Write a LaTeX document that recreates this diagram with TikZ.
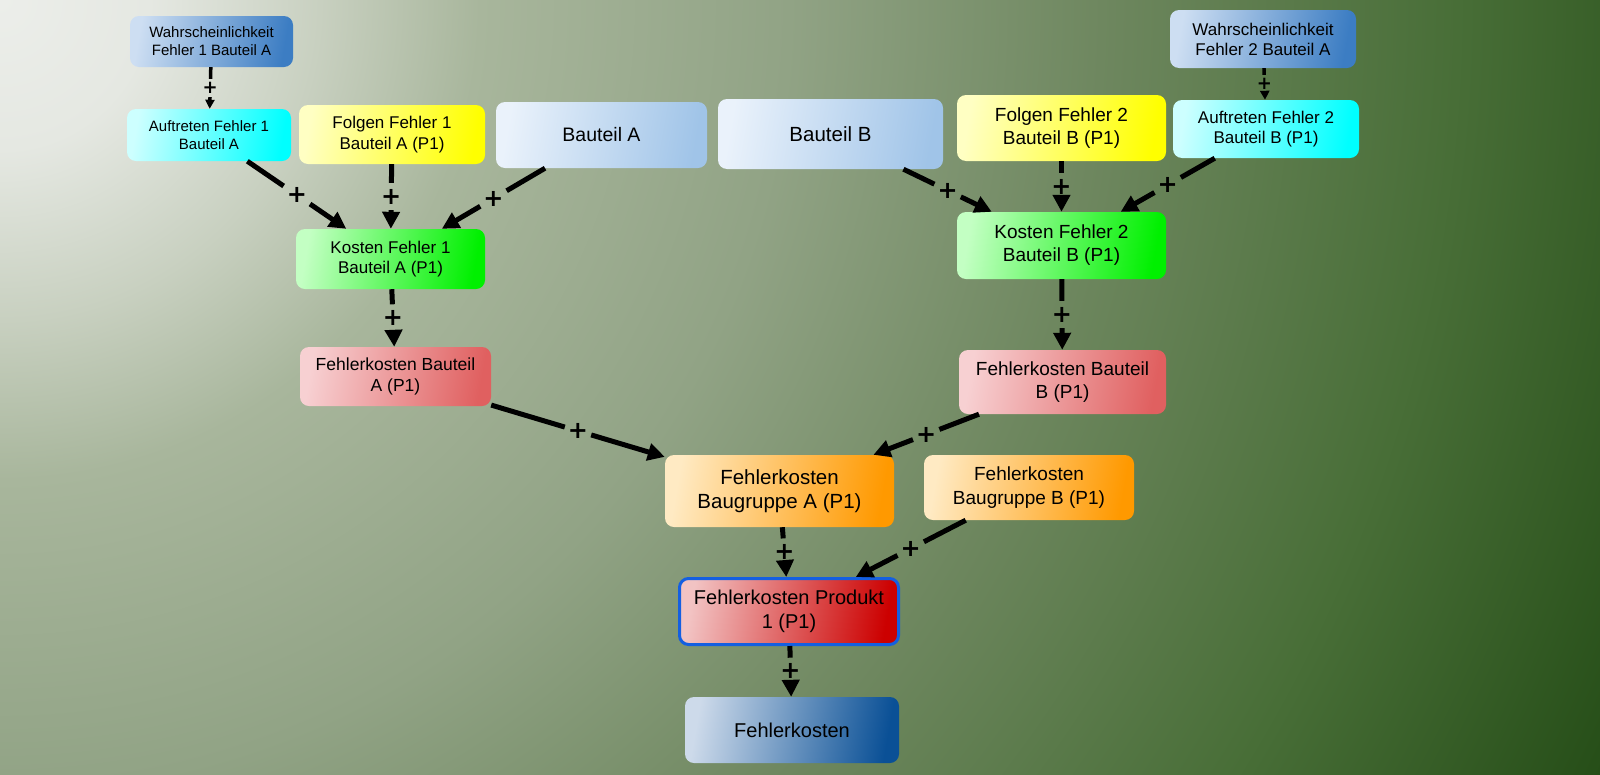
\documentclass[tikz,border=0pt]{standalone}
\usepackage{fontspec}
\setmainfont{Liberation Sans}
\newfontfamily\plusfont{DejaVu Sans}
\usetikzlibrary{arrows.meta, positioning}

% background colours
\definecolor{bgA}{RGB}{236,238,234}
\definecolor{bgB}{RGB}{229,232,226}
\definecolor{bgC}{RGB}{200,208,192}
\definecolor{bgD}{RGB}{168,182,156}
\definecolor{bgE}{RGB}{145,163,133}
\definecolor{bgF}{RGB}{110,135,95}
\definecolor{bgG}{RGB}{72,110,55}
\definecolor{bgH}{RGB}{38,78,24}
\pgfdeclareradialshading{bgshade}{\pgfpoint{0bp}{0bp}}{color(0bp)=(bgA); color(2.1bp)=(bgB); color(4.5bp)=(bgC); color(6.75bp)=(bgD); color(11.1bp)=(bgE); color(15.5bp)=(bgF); color(20.5bp)=(bgG); color(25bp)=(bgH); color(50bp)=(bgH)}

% box colours
\definecolor{wahrL}{RGB}{205,222,242}
\definecolor{wahrR}{RGB}{60,125,195}
\definecolor{aufL}{RGB}{205,255,255}
\definecolor{aufR}{RGB}{0,255,255}
\definecolor{folL}{RGB}{255,255,195}
\definecolor{folR}{RGB}{255,255,0}
\definecolor{bauL}{RGB}{234,242,251}
\definecolor{bauR}{RGB}{160,196,232}
\definecolor{kosL}{RGB}{195,255,195}
\definecolor{kosR}{RGB}{0,240,0}
\definecolor{fkbL}{RGB}{247,208,210}
\definecolor{fkbR}{RGB}{224,96,96}
\definecolor{bgrL}{RGB}{255,234,195}
\definecolor{bgrR}{RGB}{255,153,0}
\definecolor{prodL}{RGB}{242,195,195}
\definecolor{prodR}{RGB}{204,0,0}
\definecolor{prodB}{RGB}{20,95,225}
\definecolor{fkL}{RGB}{205,218,234}
\definecolor{fkR}{RGB}{10,80,150}

\newcommand{\fsz}[2]{\fontsize{#1}{#2}\selectfont}

\begin{document}
\begin{tikzpicture}[
    x=1pt, y=-1pt,
    box/.style={rectangle, rounded corners=9pt, inner sep=2pt, align=center, text=black},
    prob/.style={box, left color=wahrL, right color=wahrR, shading angle=80},
    occur/.style={box, left color=aufL, right color=aufR, shading angle=80},
    conseq/.style={box, left color=folL, right color=folR, shading angle=80},
    part/.style={box, left color=bauL, right color=bauR, shading angle=80},
    cost/.style={box, left color=kosL, right color=kosR, shading angle=80},
    partcost/.style={box, left color=fkbL, right color=fkbR, shading angle=80},
    groupcost/.style={box, left color=bgrL, right color=bgrR, shading angle=80},
    prodcost/.style={box, left color=prodL, right color=prodR, shading angle=80, draw=prodB, line width=3pt},
    total/.style={box, left color=fkL, right color=fkR, shading angle=80},
    link/.style={line width=5pt},
    arrow/.style={line width=5pt, -{Triangle[length=17pt, width=17pt]}},
    thinlink/.style={line width=3.5pt},
    thinarrow/.style={line width=3.5pt, -{Triangle[length=9pt, width=9pt]}},
    plus/.style={rectangle, inner sep=0pt, minimum width=26pt, minimum height=27pt, font=\plusfont\bfseries\fsz{24}{24}},
    smallplus/.style={rectangle, inner sep=0pt, minimum width=16pt, minimum height=18pt, font=\plusfont\bfseries\fsz{18}{18}}
]

% background
\useasboundingbox (0,0) rectangle (1600,774);
\begin{scope}
\clip (0,0) rectangle (1600,774);
\shade[shading=bgshade] (-1777,-1777) rectangle (1777,1777);
\end{scope}

% left branch
\node[prob, minimum width=163pt, minimum height=51pt, font=\fsz{15}{18}] (wahr1) at (211.5,41.5) {Wahrscheinlichkeit\\Fehler 1 Bauteil A};
\node[occur, minimum width=164pt, minimum height=52pt, font=\fsz{15}{18}] (auf1) at (209,135) {Auftreten Fehler 1\\Bauteil A};
\node[conseq, minimum width=186pt, minimum height=59pt, font=\fsz{17}{21}] (folgen1) at (392,134.5) {Folgen Fehler 1\\Bauteil A (P1)};
\node[part, minimum width=211pt, minimum height=66pt, font=\fsz{19.5}{23}] (bauteilA) at (601.5,135) {Bauteil A};
\node[cost, minimum width=189pt, minimum height=60pt, font=\fsz{17}{20}] (kosten1) at (390.5,259) {Kosten Fehler 1\\Bauteil A (P1)};
\node[partcost, minimum width=191pt, minimum height=59pt, font=\fsz{17.5}{21}] (fkA) at (395.5,376.5) {Fehlerkosten Bauteil\\A (P1)};

% right branch
\node[part, minimum width=225pt, minimum height=70pt, font=\fsz{20.5}{24}] (bauteilB) at (830.5,134) {Bauteil B};
\node[conseq, minimum width=209pt, minimum height=66pt, font=\fsz{19}{23}] (folgen2) at (1061.5,128) {Folgen Fehler 2\\Bauteil B (P1)};
\node[occur, minimum width=186pt, minimum height=58pt, font=\fsz{17}{20}] (auf2) at (1266,129) {Auftreten Fehler 2\\Bauteil B (P1)};
\node[prob, minimum width=186pt, minimum height=58pt, font=\fsz{17}{20}] (wahr2) at (1263,39) {Wahrscheinlichkeit\\Fehler 2 Bauteil A};
\node[cost, minimum width=209pt, minimum height=67pt, font=\fsz{19}{23}] (kosten2) at (1061.5,245.5) {Kosten Fehler 2\\Bauteil B (P1)};
\node[partcost, minimum width=207pt, minimum height=64pt, font=\fsz{19}{23}] (fkB) at (1062.5,382) {Fehlerkosten Bauteil\\B (P1)};

% assembly and product
\node[groupcost, minimum width=229pt, minimum height=72pt, font=\fsz{20.5}{24}] (fkgA) at (779.5,491) {Fehlerkosten\\Baugruppe A (P1)};
\node[groupcost, minimum width=210pt, minimum height=65pt, font=\fsz{19}{23.5}] (fkgB) at (1029,487.5) {Fehlerkosten\\Baugruppe B (P1)};
\node[prodcost, minimum width=219pt, minimum height=66pt, font=\fsz{20}{23.5}] (prod) at (789,611.5) {Fehlerkosten Produkt\\1 (P1)};
\node[total, minimum width=214pt, minimum height=66pt, font=\fsz{20}{24}] (fk) at (792,730) {Fehlerkosten};

% connectors
\path (wahr1) -- node[smallplus] (p1) {+} (auf1);
\draw[thinlink] (wahr1) -- (p1);
\draw[thinarrow] (p1) -- (auf1);

\path (auf1) -- node[plus] (p2) {+} (kosten1);
\draw[link] (auf1) -- (p2);
\draw[arrow] (p2) -- (kosten1);

\path (folgen1) -- node[plus] (p3) {+} (kosten1);
\draw[link] (folgen1) -- (p3);
\draw[arrow] (p3) -- (kosten1);

\path (bauteilA) -- node[plus] (p4) {+} (kosten1);
\draw[link] (bauteilA) -- (p4);
\draw[arrow] (p4) -- (kosten1);

\path (kosten1) -- node[plus] (p5) {+} (fkA);
\draw[link] (kosten1) -- (p5);
\draw[arrow] (p5) -- (fkA);

\path (wahr2) -- node[smallplus] (p6) {+} (auf2);
\draw[thinlink] (wahr2) -- (p6);
\draw[thinarrow] (p6) -- (auf2);

\path (bauteilB) -- node[plus] (p7) {+} (kosten2);
\draw[link] (bauteilB) -- (p7);
\draw[arrow] (p7) -- (kosten2);

\path (folgen2) -- node[plus] (p8) {+} (kosten2);
\draw[link] (folgen2) -- (p8);
\draw[arrow] (p8) -- (kosten2);

\path (auf2) -- node[plus] (p9) {+} (kosten2);
\draw[link] (auf2) -- (p9);
\draw[arrow] (p9) -- (kosten2);

\path (kosten2) -- node[plus] (p10) {+} (fkB);
\draw[link] (kosten2) -- (p10);
\draw[arrow] (p10) -- (fkB);

\path (fkA) -- node[plus] (p11) {+} (fkgA);
\draw[link] (fkA) -- (p11);
\draw[arrow] (p11) -- (fkgA);

\path (fkB) -- node[plus] (p12) {+} (fkgA);
\draw[link] (fkB) -- (p12);
\draw[arrow] (p12) -- (fkgA);

\path (fkgA) -- node[plus] (p13) {+} (prod);
\draw[link] (fkgA) -- (p13);
\draw[arrow] (p13) -- (prod);

\path (fkgB) -- node[plus] (p14) {+} (prod);
\draw[link] (fkgB) -- (p14);
\draw[arrow] (p14) -- (prod);

\path (prod) -- node[plus] (p15) {+} (fk);
\draw[link] (prod) -- (p15);
\draw[arrow] (p15) -- (fk);

\end{tikzpicture}
\end{document}
